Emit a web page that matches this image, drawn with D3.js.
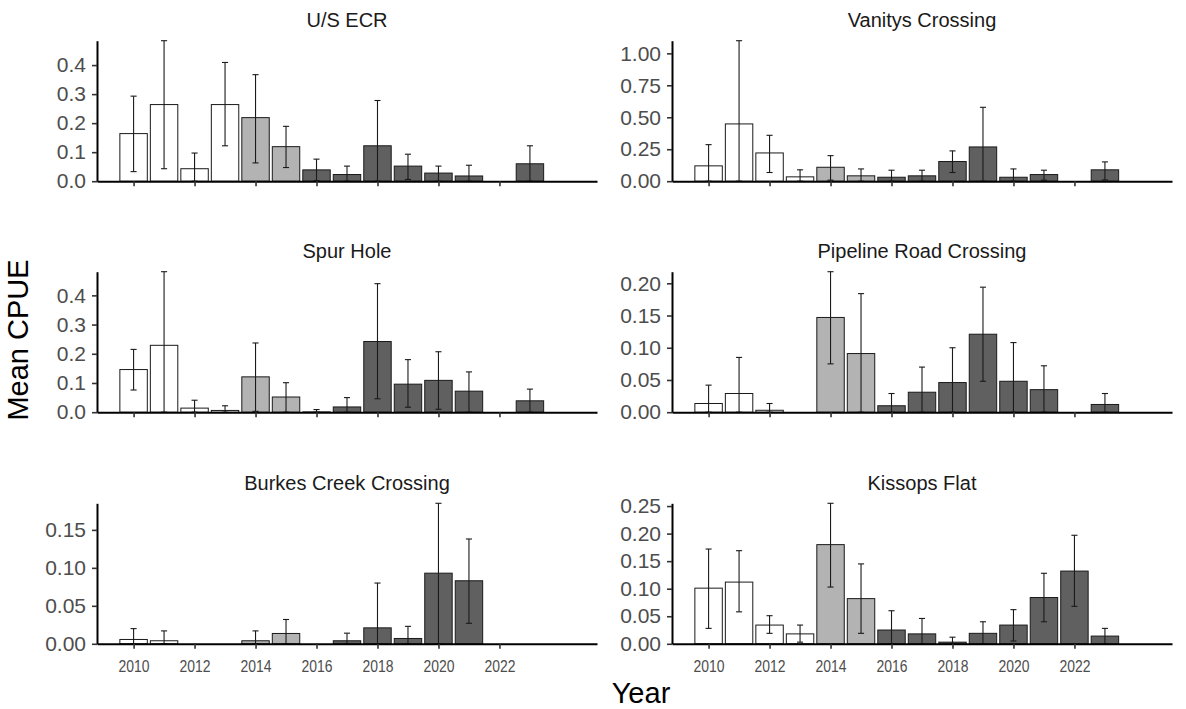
<!DOCTYPE html>
<html>
<head>
<meta charset="utf-8">
<script src="https://cdn.jsdelivr.net/npm/d3@7"></script>
<style>
  html, body { margin: 0; padding: 0; background: #ffffff; }
  svg { display: block; font-family: "Liberation Sans", Arial, sans-serif; }
</style>
</head>
<body>
<svg id="chart" width="1186" height="709"></svg>
<script>
// ---------------- DATA ----------------
const years = [2010, 2011, 2012, 2013, 2014, 2015, 2016, 2017, 2018, 2019, 2020, 2021, 2022, 2023];
const yearGroup = ["A","A","A","A","B","B","C","C","C","C","C","C","C","C"];
const xTickYears = [2010, 2012, 2014, 2016, 2018, 2020, 2022];
const sites = ["U/S ECR", "Vanitys Crossing", "Spur Hole", "Pipeline Road Crossing", "Burkes Creek Crossing", "Kissops Flat"];

// mean CPUE, lower and upper error limits (null = no sample)
const meanUSECR  = [0.164, 0.264, 0.043, 0.264, 0.219, 0.119, 0.039, 0.023, 0.122, 0.052, 0.028, 0.018, null, 0.060];
const lowerUSECR = [0.033, 0.043, 0,     0.122, 0.063, 0.047, 0.002, 0,     0,     0.006, 0,     0,     null, 0];
const upperUSECR = [0.293, 0.484, 0.097, 0.409, 0.367, 0.189, 0.076, 0.052, 0.278, 0.093, 0.052, 0.055, null, 0.122];

const meanVanitys  = [0.120, 0.448, 0.221, 0.034, 0.109, 0.042, 0.031, 0.042, 0.154, 0.268, 0.031, 0.052, null, 0.089];
const lowerVanitys = [0,     0,     0.068, 0,     0.008, 0,     0,     0,     0.068, 0,     0,     0.008, null, 0.010];
const upperVanitys = [0.286, 1.099, 0.359, 0.089, 0.200, 0.096, 0.086, 0.086, 0.237, 0.578, 0.096, 0.086, null, 0.151];

const meanSpur  = [0.146, 0.229, 0.014, 0.006, 0.121, 0.052, 0.001, 0.018, 0.242, 0.096, 0.109, 0.072, null, 0.039];
const lowerSpur = [0.076, 0,     0,     0,     0.003, 0,     0,     0,     0.046, 0.017, 0.010, 0,     null, 0];
const upperSpur = [0.215, 0.481, 0.041, 0.022, 0.237, 0.101, 0.009, 0.050, 0.440, 0.180, 0.207, 0.138, null, 0.079];

const meanPipeline  = [0.0135, 0.029, 0.003,  null, 0.147, 0.091, 0.010, 0.031, 0.046, 0.121, 0.048, 0.035, null, 0.012];
const lowerPipeline = [0,      0,     0,      null, 0.075, 0,     0,     0,     0,     0.048, 0,     0,     null, 0];
const upperPipeline = [0.042,  0.085, 0.0135, null, 0.218, 0.184, 0.029, 0.070, 0.100, 0.194, 0.108, 0.072, null, 0.029];

const meanBurkes  = [0.0057, 0.004, null, null, 0.004, 0.0136, null, 0.004, 0.021, 0.007, 0.093, 0.083, null, null];
const lowerBurkes = [0,      0,     null, null, 0,     0,      null, 0,     0,     0,     0,     0.027, null, null];
const upperBurkes = [0.020,  0.017, null, null, 0.017, 0.032,  null, 0.014, 0.080, 0.023, 0.185, 0.138, null, null];

const meanKissops  = [0.101, 0.112, 0.034, 0.018, 0.180, 0.082, 0.025, 0.018, 0.003, 0.019, 0.034, 0.084, 0.132, 0.014];
const lowerKissops = [0.028, 0.058, 0.019, 0.003, 0.103, 0.019, 0,     0,     0,     0,     0.005, 0.040, 0.068, 0];
const upperKissops = [0.172, 0.169, 0.051, 0.034, 0.255, 0.145, 0.060, 0.046, 0.012, 0.040, 0.062, 0.128, 0.197, 0.028];

const yTicksUSECR    = [0, 0.1, 0.2, 0.3, 0.4];
const yTicksVanitys  = [0, 0.25, 0.5, 0.75, 1.0];
const yTicksSpur     = [0, 0.1, 0.2, 0.3, 0.4];
const yTicksPipeline = [0, 0.05, 0.10, 0.15, 0.20];
const yTicksBurkes   = [0, 0.05, 0.10, 0.15];
const yTicksKissops  = [0, 0.05, 0.10, 0.15, 0.20, 0.25];
const yTickDigits    = [1, 2, 1, 2, 2, 2];

const yAxisTitle = "Mean CPUE";
const xAxisTitle = "Year";

// ---------------- LAYOUT / STYLE ----------------
const panelsData = [
  {mean: meanUSECR, lo: lowerUSECR, hi: upperUSECR, ticks: yTicksUSECR},
  {mean: meanVanitys, lo: lowerVanitys, hi: upperVanitys, ticks: yTicksVanitys},
  {mean: meanSpur, lo: lowerSpur, hi: upperSpur, ticks: yTicksSpur},
  {mean: meanPipeline, lo: lowerPipeline, hi: upperPipeline, ticks: yTicksPipeline},
  {mean: meanBurkes, lo: lowerBurkes, hi: upperBurkes, ticks: yTicksBurkes},
  {mean: meanKissops, lo: lowerKissops, hi: upperKissops, ticks: yTicksKissops}
];
const colX = [[97, 597], [672, 1172]];
const rowTop = [40.7, 271.7, 503.3];
const panelH = 140.5;
const fillColor = d3.scaleOrdinal().domain(["A","B","C"]).range(["#ffffff", "#b3b3b3", "#606060"]);
const barWidth = 0.9;
const capHalf = 0.1;
const xDomain = [2008.8, 2025.2];

const svg = d3.select("#chart");

panelsData.forEach((p, i) => {
  const col = i % 2, row = Math.floor(i / 2);
  const [x0, x1] = colX[col];
  const top = rowTop[row], bottom = top + panelH;
  const x = d3.scaleLinear().domain(xDomain).range([x0, x1]);
  const ymax = d3.max(p.hi.filter(v => v != null));
  const y = d3.scaleLinear().domain([0, ymax]).range([bottom, top]);
  const g = svg.append("g");

  const recs = years.map((yr, k) => ({year: yr, grp: yearGroup[k], m: p.mean[k], lo: p.lo[k], hi: p.hi[k]}))
                    .filter(d => d.m != null);

  // bars
  g.selectAll("rect.bar").data(recs).enter().append("rect")
    .attr("class", "bar")
    .attr("x", d => x(d.year - barWidth / 2))
    .attr("width", d => x(d.year + barWidth / 2) - x(d.year - barWidth / 2))
    .attr("y", d => y(d.m))
    .attr("height", d => y(0) - y(d.m))
    .attr("fill", d => fillColor(d.grp))
    .attr("stroke", "#1a1a1a")
    .attr("stroke-width", 1);

  // error bars
  const eb = g.selectAll("g.eb").data(recs).enter().append("g").attr("class", "eb")
    .attr("stroke", "#1a1a1a").attr("stroke-width", 1.1);
  eb.append("line")
    .attr("x1", d => x(d.year)).attr("x2", d => x(d.year))
    .attr("y1", d => y(d.lo)).attr("y2", d => y(d.hi));
  eb.append("line")
    .attr("x1", d => x(d.year - capHalf)).attr("x2", d => x(d.year + capHalf))
    .attr("y1", d => y(d.hi)).attr("y2", d => y(d.hi));
  eb.append("line")
    .attr("x1", d => x(d.year - capHalf)).attr("x2", d => x(d.year + capHalf))
    .attr("y1", d => y(d.lo)).attr("y2", d => y(d.lo));

  // y axis
  const fmt = d3.format("." + yTickDigits[i] + "f");
  const ya = g.append("g").attr("transform", `translate(${x0},0)`)
    .call(d3.axisLeft(y).tickValues(p.ticks).tickFormat(fmt).tickSize(5).tickPadding(6).tickSizeOuter(0));
  ya.select(".domain").attr("stroke", "#000").attr("stroke-width", 2);
  ya.selectAll(".tick line").attr("stroke", "#333").attr("stroke-width", 1.6);
  ya.selectAll(".tick text").attr("fill", "#4d4d4d").style("font-size", "21px");

  // x axis
  const xa = g.append("g").attr("transform", `translate(0,${bottom})`)
    .call(d3.axisBottom(x).tickValues(xTickYears).tickFormat(d3.format("d")).tickSize(5).tickSizeOuter(0));
  xa.select(".domain").attr("stroke", "#000").attr("stroke-width", 2);
  xa.selectAll(".tick line").attr("stroke", "#333").attr("stroke-width", 1.6);
  if (row === 2) {
    xa.selectAll(".tick text").attr("fill", "#4d4d4d").style("font-size", "16px")
      .attr("y", 28).attr("dy", 0).attr("transform", "scale(0.87,1)");
  } else {
    xa.selectAll(".tick text").remove();
  }

  // panel title
  g.append("text")
    .attr("x", (x0 + x1) / 2).attr("y", top - 13.5)
    .attr("text-anchor", "middle")
    .attr("fill", "#1a1a1a")
    .style("font-size", "20px")
    .text(sites[i]);
});

// axis titles
svg.append("text")
  .attr("transform", "translate(28,340) rotate(-90)")
  .attr("text-anchor", "middle")
  .style("font-size", "29px")
  .attr("fill", "#000")
  .text(yAxisTitle);

svg.append("text")
  .attr("x", 641).attr("y", 703)
  .attr("text-anchor", "middle")
  .style("font-size", "29px")
  .attr("fill", "#000")
  .text(xAxisTitle);
</script>
</body>
</html>
